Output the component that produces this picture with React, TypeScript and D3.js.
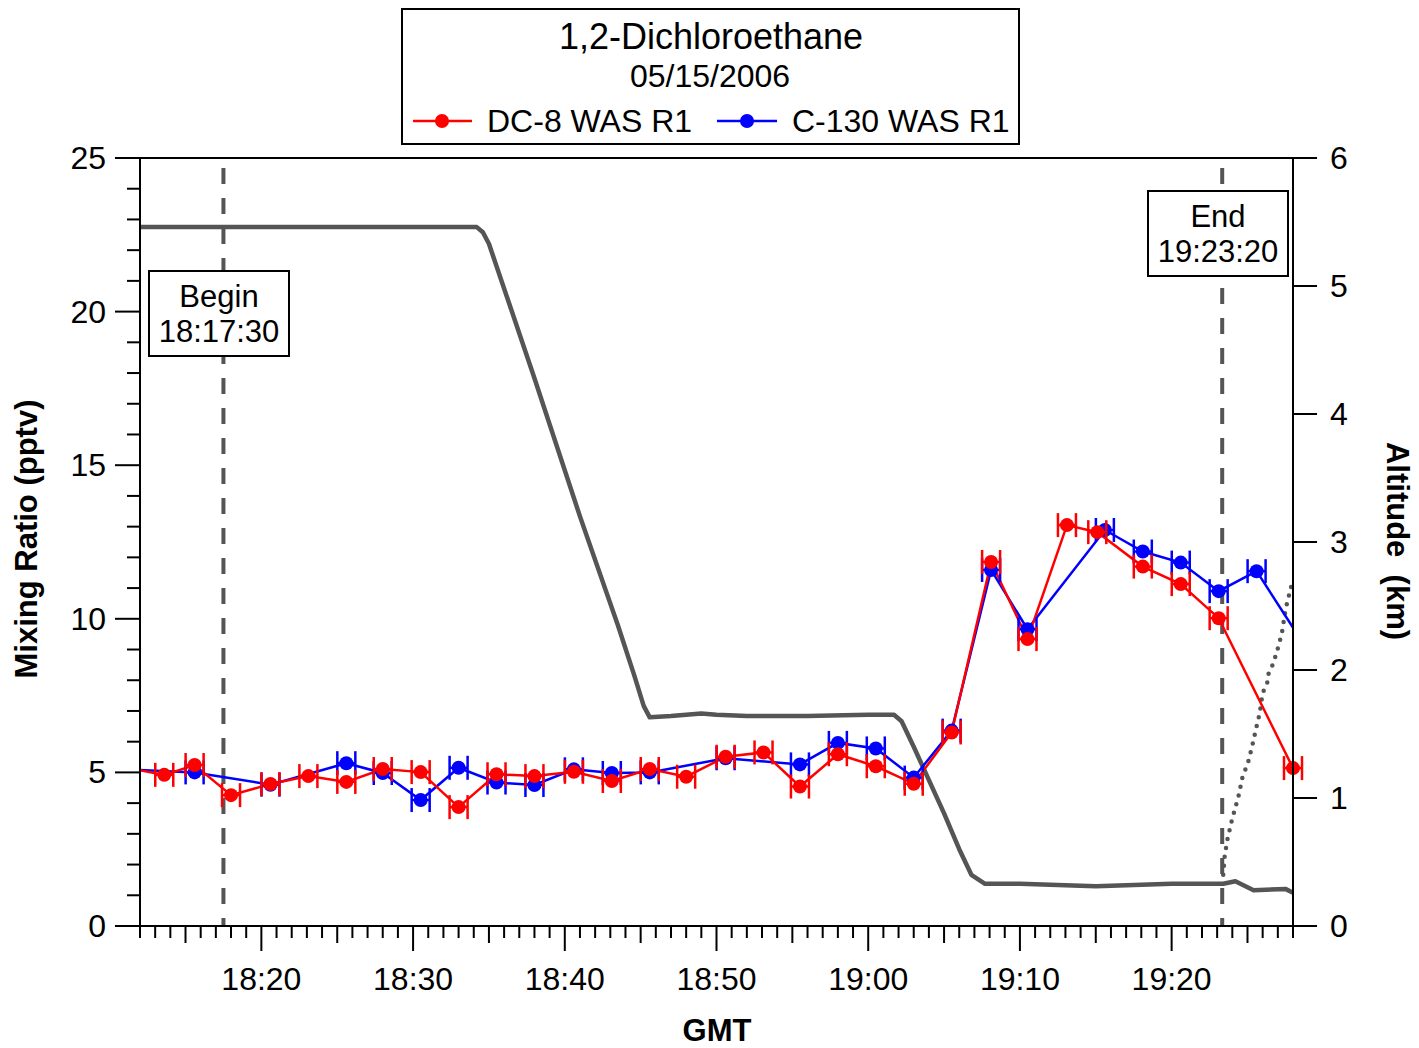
import React from "react";
import * as d3 from "d3";

// time in minutes after 18:00 GMT
const dc8Time = [11.1, 13.6, 15.6, 18.0, 20.6, 23.1, 25.6, 28.0, 30.5, 33.0, 35.5, 38.0, 40.6, 43.1, 45.6, 48.0, 50.6, 53.1, 55.5, 58.0, 60.5, 63.0, 65.5, 68.1, 70.5, 73.1, 75.1, 78.1, 80.6, 83.1, 88.0];
const dc8Value = [5.15, 4.92, 5.24, 4.26, 4.62, 4.88, 4.69, 5.11, 5.01, 3.87, 4.94, 4.88, 5.02, 4.72, 5.11, 4.86, 5.51, 5.65, 4.54, 5.59, 5.2, 4.63, 6.3, 11.85, 9.34, 13.05, 12.82, 11.7, 11.13, 10.02, 5.14];

const c130Time = [11.1, 15.6, 20.6, 25.6, 28.0, 30.5, 33.0, 35.5, 38.0, 40.6, 43.1, 45.6, 50.6, 55.5, 58.0, 60.5, 63.0, 65.5, 68.1, 70.5, 75.6, 78.1, 80.6, 83.1, 85.6, 90.5];
const c130Value = [5.1, 5.0, 4.6, 5.3, 4.98, 4.1, 5.15, 4.67, 4.59, 5.1, 4.98, 5.0, 5.46, 5.26, 5.96, 5.78, 4.83, 6.36, 11.59, 9.66, 12.89, 12.19, 11.83, 10.9, 11.55, 7.8];

// DC-8 altitude (km)
const altTime = [12.0, 14.0, 17.0, 20.0, 25.0, 30.0, 34.2, 34.6, 35.0, 38.0, 41.0, 43.5, 44.6, 45.2, 45.6, 47.0, 49.0, 50.0, 52.0, 56.0, 60.0, 61.7, 62.2, 63.0, 65.0, 66.0, 66.8, 67.7, 70.0, 75.0, 80.0, 83.4, 84.2, 85.4, 87.5, 88.0];
const altKm = [5.46, 5.46, 5.46, 5.46, 5.46, 5.46, 5.46, 5.42, 5.33, 4.28, 3.2, 2.35, 1.95, 1.72, 1.63, 1.64, 1.66, 1.65, 1.64, 1.64, 1.65, 1.65, 1.6, 1.4, 0.88, 0.6, 0.4, 0.33, 0.33, 0.31, 0.33, 0.33, 0.35, 0.28, 0.29, 0.26];

// C-130 altitude (km), dotted
const alt2Time = [83.4, 83.5, 83.7, 84.0, 84.4, 84.7, 85.0, 85.3, 85.6, 85.8, 86.0, 86.3, 86.4, 86.7, 87.1, 87.3, 87.5, 88.0];
const alt2Km = [0.4, 0.55, 0.69, 0.84, 1.01, 1.18, 1.26, 1.4, 1.56, 1.66, 1.82, 1.9, 1.98, 2.05, 2.21, 2.31, 2.47, 2.71];

const xTickLabels = ["18:20", "18:30", "18:40", "18:50", "19:00", "19:10", "19:20"];
const xTickMinutes = [20, 30, 40, 50, 60, 70, 80];
const leftTicks = [0, 5, 10, 15, 20, 25];
const rightTicks = [0, 1, 2, 3, 4, 5, 6];
const beginTime = 17.5;
const endTime = 83 + 20 / 60;

const FONT = "'Liberation Sans', Arial, sans-serif";

export default function App() {
  const L = 140, R = 1293, T = 158, B = 926;
  const x = d3.scaleLinear().domain([12, 88]).range([L, R]);
  const y = d3.scaleLinear().domain([0, 25]).range([B, T]);
  const y2 = d3.scaleLinear().domain([0, 6]).range([B, T]);

  const line = d3.line<[number, number]>().x(d => x(d[0])).y(d => y(d[1]));
  const altLine = d3.line<[number, number]>().x(d => x(d[0])).y(d => y2(d[1]));

  const dc8 = dc8Time.map((t, i) => [t, dc8Value[i]] as [number, number]);
  const c130 = c130Time.map((t, i) => [t, c130Value[i]] as [number, number]);
  const alt = altTime.map((t, i) => [t, altKm[i]] as [number, number]);
  const alt2 = alt2Time.map((t, i) => [t, alt2Km[i]] as [number, number]);

  const minorMinutes = d3.range(12, 89, 1);
  const leftMinor = d3.range(0, 26, 1);

  const markers = (data: [number, number][], color: string) =>
    data.filter(d => d[0] >= 12 && d[0] <= 88).map((d, i) => {
      const cx = x(d[0]), cy = y(d[1]);
      return (
        <g key={i} stroke={color} strokeWidth={2.5}>
          <line x1={cx - 9} x2={cx + 9} y1={cy} y2={cy} />
          <line x1={cx - 9} x2={cx - 9} y1={cy - 12} y2={cy + 12} />
          <line x1={cx + 9} x2={cx + 9} y1={cy - 12} y2={cy + 12} />
          <circle cx={cx} cy={cy} r={7} fill={color} stroke="none" />
        </g>
      );
    });

  return (
    <svg width={1419} height={1048} style={{ position: "absolute", left: 0, top: 0, background: "#fff" }} fontFamily={FONT}>
      <defs>
        <clipPath id="plot">
          <rect x={L} y={T} width={R - L} height={B - T} />
        </clipPath>
      </defs>
      <rect x={0} y={0} width={1419} height={1048} fill="#fff" />

      {/* altitude */}
      <g clipPath="url(#plot)">
        <path d={altLine(alt) || ""} fill="none" stroke="#555" strokeWidth={4.5} strokeLinejoin="round" />
        <path d={altLine(alt2) || ""} fill="none" stroke="#555" strokeWidth={4.5} strokeLinecap="round" strokeDasharray="0,9" />
      </g>

      {/* begin / end dashed lines */}
      {[beginTime, endTime].map((t, i) => (
        <line key={i} x1={x(t)} x2={x(t)} y1={T + 10} y2={B} stroke="#555" strokeWidth={4} strokeDasharray="16,14" />
      ))}

      {/* data lines */}
      <g clipPath="url(#plot)">
        <path d={line(c130) || ""} fill="none" stroke="#0000ff" strokeWidth={2.5} />
        <path d={line(dc8) || ""} fill="none" stroke="#ff0000" strokeWidth={2.5} />
      </g>
      {markers(c130, "#0000ff")}
      {markers(dc8, "#ff0000")}

      {/* begin / end boxes */}
      <g>
        <rect x={149} y={271} width={140} height={85} fill="#fff" stroke="#000" strokeWidth={2} />
        <text x={219} y={307} textAnchor="middle" fontSize={31}>Begin</text>
        <text x={219} y={342} textAnchor="middle" fontSize={31}>18:17:30</text>
        <rect x={1148} y={191} width={140} height={85} fill="#fff" stroke="#000" strokeWidth={2} />
        <text x={1218} y={227} textAnchor="middle" fontSize={31}>End</text>
        <text x={1218} y={262} textAnchor="middle" fontSize={31}>19:23:20</text>
      </g>

      {/* axes frame */}
      <g stroke="#000" strokeWidth={2}>
        <line x1={L} x2={L} y1={T} y2={B} />
        <line x1={R} x2={R} y1={T} y2={B} />
        <line x1={L} x2={R} y1={T} y2={T} />
        <line x1={L} x2={R} y1={B} y2={B} />
        {leftMinor.map(v => (
          <line key={"lm" + v} x1={L - (v % 5 === 0 ? 25 : 13)} x2={L} y1={y(v)} y2={y(v)} />
        ))}
        {rightTicks.map(v => (
          <line key={"rt" + v} x1={R} x2={R + 24} y1={y2(v)} y2={y2(v)} />
        ))}
        {minorMinutes.map(m => (
          <line key={"xm" + m} x1={x(m)} x2={x(m)} y1={B} y2={B + (m % 10 === 0 ? 25 : m % 5 === 0 ? 17 : 12)} />
        ))}
      </g>

      {/* tick labels */}
      <g fontSize={32} fill="#000">
        {leftTicks.map(v => (
          <text key={"l" + v} x={106} y={y(v) + 11} textAnchor="end">{v}</text>
        ))}
        {rightTicks.map(v => (
          <text key={"r" + v} x={1330} y={y2(v) + 11} textAnchor="start">{v}</text>
        ))}
        {xTickMinutes.map((m, i) => (
          <text key={"x" + m} x={x(m)} y={990} textAnchor="middle">{xTickLabels[i]}</text>
        ))}
      </g>

      {/* axis titles */}
      <text x={0} y={0} transform="translate(37,539) rotate(-90)" textAnchor="middle" fontSize={31} fontWeight="bold">Mixing Ratio (pptv)</text>
      <text x={0} y={0} transform="translate(1387,541) rotate(90)" textAnchor="middle" fontSize={31} fontWeight="bold" style={{ whiteSpace: "pre" }}>{"Altitude  (km)"}</text>
      <text x={717} y={1041} textAnchor="middle" fontSize={31} fontWeight="bold">GMT</text>

      {/* legend box */}
      <g>
        <rect x={402} y={9} width={617} height={135} fill="#fff" stroke="#000" strokeWidth={2} />
        <text x={711} y={49} textAnchor="middle" fontSize={36}>1,2-Dichloroethane</text>
        <text x={710} y={87} textAnchor="middle" fontSize={32}>05/15/2006</text>
        <line x1={413} x2={472} y1={121} y2={121} stroke="#ff0000" strokeWidth={2.5} />
        <circle cx={442} cy={121} r={7} fill="#ff0000" />
        <text x={487} y={132} fontSize={32}>DC-8 WAS R1</text>
        <line x1={717} x2={777} y1={121} y2={121} stroke="#0000ff" strokeWidth={2.5} />
        <circle cx={747} cy={121} r={7} fill="#0000ff" />
        <text x={792} y={132} fontSize={32}>C-130 WAS R1</text>
      </g>
    </svg>
  );
}
